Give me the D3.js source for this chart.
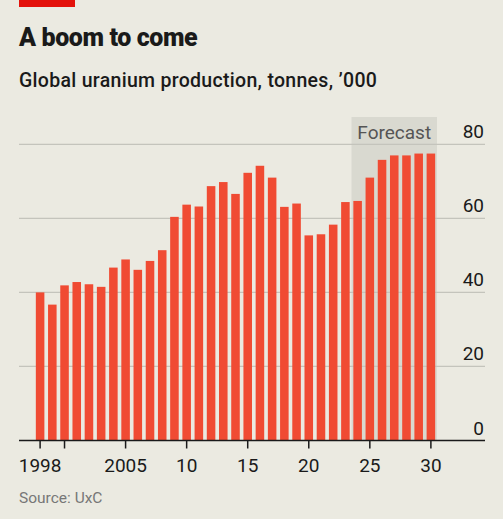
<!DOCTYPE html>
<html>
<head>
<meta charset="utf-8">
<script src="https://cdn.jsdelivr.net/npm/d3@7"></script>
<style>
  html, body { margin: 0; padding: 0; background: #ebeae1; }
  svg { display: block; font-family: Roboto, "Noto Sans", sans-serif; }
</style>
</head>
<body>
<svg id="chart"></svg>
<script>
// Data: global uranium production, tonnes '000 (2024 onwards is forecast)
const years = d3.range(1998, 2031);
const production = [
  40.0, 36.7, 41.9, 42.8, 42.2, 41.5, 46.7, 48.9, 46.1, 48.5, 51.4,
  60.4, 63.7, 63.2, 68.7, 69.8, 66.6, 72.3, 74.2, 71.0, 63.1, 64.0,
  55.4, 55.7, 58.3, 64.4, 64.7, 71.0, 75.8, 77.0, 77.0, 77.5, 77.5
];
const forecastFrom = 2024;
const yTicks = [0, 20, 40, 60, 80];
const xTicks = [1998, 2000, 2005, 2010, 2015, 2020, 2025, 2030];
const xTickLabels = ["1998", "", "2005", "10", "15", "20", "25", "30"];

const width = 503;
const height = 519;

const svg = d3.select("#chart")
    .attr("width", width)
    .attr("height", height);

svg.append("rect")
    .attr("width", width)
    .attr("height", height)
    .attr("fill", "#ebeae1");

// Red tag top left
svg.append("rect")
    .attr("x", 19)
    .attr("y", 0)
    .attr("width", 56)
    .attr("height", 7)
    .attr("fill", "#e3120b");

// Titles
svg.append("text")
    .attr("x", 19)
    .attr("y", 46)
    .style("font-size", "25px")
    .style("font-weight", "900")
    .style("fill", "#1a1a1a")
    .style("letter-spacing", "-0.4px")
    .text("A boom to come");

svg.append("text")
    .attr("x", 19)
    .attr("y", 87)
    .style("font-size", "19.5px")
    .style("font-weight", "500")
    .style("fill", "#1a1a1a")
    .style("letter-spacing", "0.3px")
    .text("Global uranium production, tonnes, \u2019000");

// Scales
const x = d3.scaleBand()
    .domain(years)
    .range([34, 437])
    .paddingInner(0.3)
    .paddingOuter(0.15);

const y = d3.scaleLinear()
    .domain([0, 80])
    .range([440.5, 144.3]);

const gap = x.step() - x.bandwidth();

// Forecast shading
const shadeX0 = x(forecastFrom) - gap / 2;
const shadeX1 = x(years[years.length - 1]) + x.bandwidth() + gap / 2;
svg.append("rect")
    .attr("x", shadeX0)
    .attr("y", 117)
    .attr("width", shadeX1 - shadeX0)
    .attr("height", y(0) - 117)
    .attr("fill", "#d9d9d0");

svg.append("text")
    .attr("x", (shadeX0 + shadeX1) / 2)
    .attr("y", 139)
    .attr("text-anchor", "middle")
    .style("font-size", "19px")
    .style("fill", "#555")
    .text("Forecast");

// Gridlines and y labels
svg.append("g")
  .selectAll("line")
  .data(yTicks.filter(d => d > 0))
  .enter().append("line")
    .attr("x1", 19)
    .attr("x2", 485)
    .attr("y1", d => y(d))
    .attr("y2", d => y(d))
    .attr("stroke", "#c4c4bc")
    .attr("stroke-width", 1.2);

svg.append("g")
  .selectAll("text")
  .data(yTicks)
  .enter().append("text")
    .attr("x", 484)
    .attr("y", d => y(d) - 6)
    .attr("text-anchor", "end")
    .style("font-size", "19px")
    .style("fill", "#1a1a1a")
    .text(d => d);

// Bars
svg.append("g")
  .selectAll("rect")
  .data(years)
  .enter().append("rect")
    .attr("x", d => x(d))
    .attr("y", (d, i) => y(production[i]))
    .attr("width", x.bandwidth())
    .attr("height", (d, i) => y(0) - y(production[i]))
    .attr("fill", "#f04b33");

// X axis
const axis = d3.axisBottom(x)
    .tickValues(xTicks)
    .tickSize(8)
    .tickFormat((d, i) => xTickLabels[i]);

const gx = svg.append("g")
    .attr("transform", `translate(0,${y(0)})`)
    .call(axis);

gx.select(".domain").remove();
gx.append("line")
    .attr("x1", 19)
    .attr("x2", 485)
    .attr("stroke", "#1a1a1a")
    .attr("stroke-width", 1.5);
gx.selectAll(".tick line")
    .attr("stroke", "#1a1a1a")
    .attr("stroke-width", 1.5);
gx.selectAll(".tick text")
    .attr("y", 31)
    .attr("dy", 0)
    .style("font-size", "19px")
    .style("font-family", "Roboto, sans-serif")
    .style("fill", "#1a1a1a");

// Source
svg.append("text")
    .attr("x", 19)
    .attr("y", 503)
    .style("font-size", "15.5px")
    .style("fill", "#777")
    .text("Source: UxC");
</script>
</body>
</html>
